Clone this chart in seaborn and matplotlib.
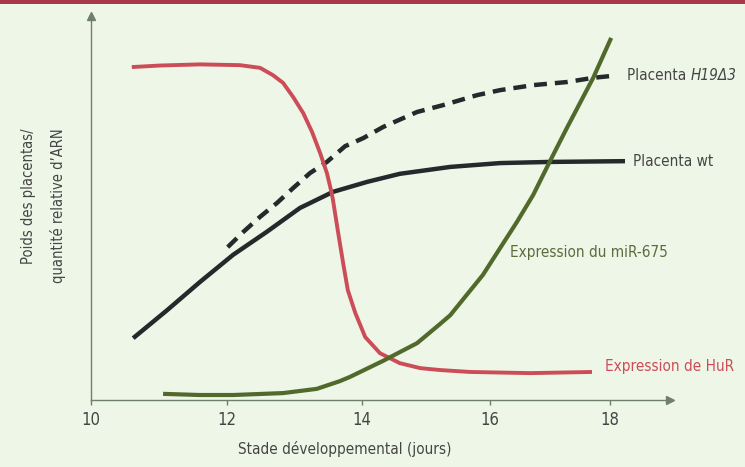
import numpy as np
import pandas as pd
import matplotlib
matplotlib.use("Agg")
import matplotlib.pyplot as plt
import seaborn as sns
from matplotlib.patches import Rectangle

# ---------------- data ----------------
x_ticks = [10, 12, 14, 16, 18]

hur_x = [10.60, 11.01, 11.60, 12.19, 12.49, 12.68, 12.83, 12.98, 13.13, 13.26, 13.38,
         13.48, 13.54, 13.57, 13.64, 13.72, 13.79, 13.90, 14.05, 14.28, 14.59, 14.91,
         15.22, 15.69, 16.67, 17.70]
hur_y = [86.7, 87.1, 87.4, 87.2, 86.5, 84.6, 82.6, 78.9, 74.7, 69.8, 64.3,
         59.1, 54.7, 52.1, 44.3, 35.7, 28.6, 22.7, 16.4, 12.2, 9.6, 8.3,
         7.8, 7.3, 7.0, 7.3]

wt_x = [10.62, 11.12, 11.60, 12.09, 12.59, 13.08, 13.57, 14.08, 14.59, 15.38, 16.17, 17.00, 18.25]
wt_y = [16.1, 23.4, 30.7, 37.8, 43.8, 50.0, 54.2, 56.8, 58.9, 60.7, 61.7, 62.0, 62.2]

h19_x = [12.01, 12.24, 12.49, 12.74, 12.98, 13.23, 13.48, 13.75, 14.02, 14.33, 14.86,
         15.27, 15.80, 16.17, 16.72, 17.28, 17.72, 18.03]
h19_y = [39.8, 43.75, 47.7, 51.3, 55.2, 59.1, 62.0, 66.1, 68.2, 71.1, 75.0,
         76.8, 79.4, 80.7, 82.0, 82.8, 83.9, 84.4]

mir_x = [11.06, 11.60, 12.09, 12.83, 13.33, 13.67, 13.82, 14.33, 14.86, 15.22, 15.38,
         15.89, 16.17, 16.45, 16.72, 17.00, 17.28, 17.72, 18.02]
mir_y = [1.6, 1.3, 1.3, 1.8, 2.9, 4.9, 6.0, 10.2, 14.8, 19.8, 22.1,
         32.6, 39.6, 46.4, 53.4, 62.2, 70.8, 83.9, 94.3]

label_h19 = "Placenta "
label_h19_it = "H19Δ3"
label_wt = "Placenta wt"
label_mir = "Expression du miR-675"
label_hur = "Expression de HuR"
xlabel = "Stade développemental (jours)"
ylabel = "Poids des placentas/\nquantité relative d’ARN"

# ---------------- style ----------------
BG = "#eef6e8"
AXC = "#6f7f6a"
RED = "#cc4d57"
BLACK = "#24292c"
GREEN = "#52692c"
TXT = "#454545"

sns.set_theme(style="white")
plt.rcParams["font.family"] = ["DejaVu Sans"]
plt.rcParams["font.stretch"] = "condensed"

fig = plt.figure(figsize=(7.45, 4.67), dpi=100, facecolor=BG)
W, H = 745, 467
ax = fig.add_axes([91 / W, (H - 400) / H, 579 / W, 384 / H])
ax.set_facecolor(BG)

# top red band
fig.patches.append(Rectangle((0, 1 - 4 / H), 1, 4 / H, transform=fig.transFigure,
                             facecolor="#a8384c", edgecolor="none"))

# piecewise x scale (schematic axis with uneven tick spacing)
KX = np.array([10, 12, 14, 16, 18], float)
PX = np.array([0, 136, 271, 399, 519], float)


def fwd(x):
    x = np.asarray(x, float)
    y = np.interp(x, KX, PX)
    y = np.where(x > 18, 519 + (x - 18) * 60, y)
    y = np.where(x < 10, (x - 10) * 68, y)
    return y


def inv(p):
    p = np.asarray(p, float)
    x = np.interp(p, PX, KX)
    x = np.where(p > 519, 18 + (p - 519) / 60, x)
    x = np.where(p < 0, 10 + p / 68, x)
    return x


df_wt = pd.DataFrame({"x": wt_x, "y": wt_y})
df_h19 = pd.DataFrame({"x": h19_x, "y": h19_y})
df_hur = pd.DataFrame({"x": hur_x, "y": hur_y})
df_mir = pd.DataFrame({"x": mir_x, "y": mir_y})

common = dict(sort=False, estimator=None, solid_joinstyle="round")
sns.lineplot(data=df_wt, x="x", y="y", ax=ax, color=BLACK, lw=3.2,
             solid_capstyle="butt", **common)
sns.lineplot(data=df_h19, x="x", y="y", ax=ax, color=BLACK, lw=3.2, sort=False,
             estimator=None)
ax.lines[-1].set_dashes((2.9, 1.8))
ax.lines[-1].set_dash_capstyle("butt")
ax.lines[-1].set_dash_joinstyle("round")
sns.lineplot(data=df_hur, x="x", y="y", ax=ax, color=RED, lw=2.8,
             solid_capstyle="butt", **common)
sns.lineplot(data=df_mir, x="x", y="y", ax=ax, color=GREEN, lw=3.0,
             solid_capstyle="butt", **common)

ax.set_xscale("function", functions=(fwd, inv))
ax.set_xlim(10, 19)
ax.set_ylim(0, 100)
ax.set_xticks(x_ticks)
ax.set_xticklabels([str(t) for t in x_ticks])
ax.set_yticks([])

for s in ["top", "right"]:
    ax.spines[s].set_visible(False)
for s in ["left", "bottom"]:
    ax.spines[s].set_color(AXC)
    ax.spines[s].set_linewidth(1.0)
ax.tick_params(axis="x", direction="out", length=3.6, width=1.0, color=AXC,
               labelsize=12, labelcolor=TXT, pad=4, bottom=True)

# axis arrows
ax.plot(1, 0, ">", color=AXC, ms=6, transform=ax.transAxes, clip_on=False)
ax.plot(0, 1, "^", color=AXC, ms=6, transform=ax.transAxes, clip_on=False)

ax.set_xlabel(xlabel, fontsize=11, color=TXT, va="center")
ax.xaxis.set_label_coords((345 - 91) / 579, (400 - 449) / 384)
ax.set_ylabel(ylabel, fontsize=10.5, color=TXT, va="center", ha="center",
              multialignment="right", linespacing=2.0)
ax.yaxis.set_label_coords((43.5 - 91) / 579, (400 - 206) / 384)

# curve labels
t1 = ax.text(18.28, 84.4, label_h19, fontsize=11, color=TXT, va="center", ha="left")
ax.annotate(label_h19_it, xy=(1, 0), xycoords=t1, va="bottom", ha="left",
            fontsize=11, color=TXT, style="italic")
ax.text(18.38, 62.0, label_wt, fontsize=11, color=TXT, va="center", ha="left")
ax.text(16.33, 38.5, label_mir, fontsize=11, color="#5b6b3e", va="center", ha="left")
ax.text(17.92, 8.6, label_hur, fontsize=11, color=RED, va="center", ha="left")

fig.savefig("out.png", dpi=100, facecolor=BG)
